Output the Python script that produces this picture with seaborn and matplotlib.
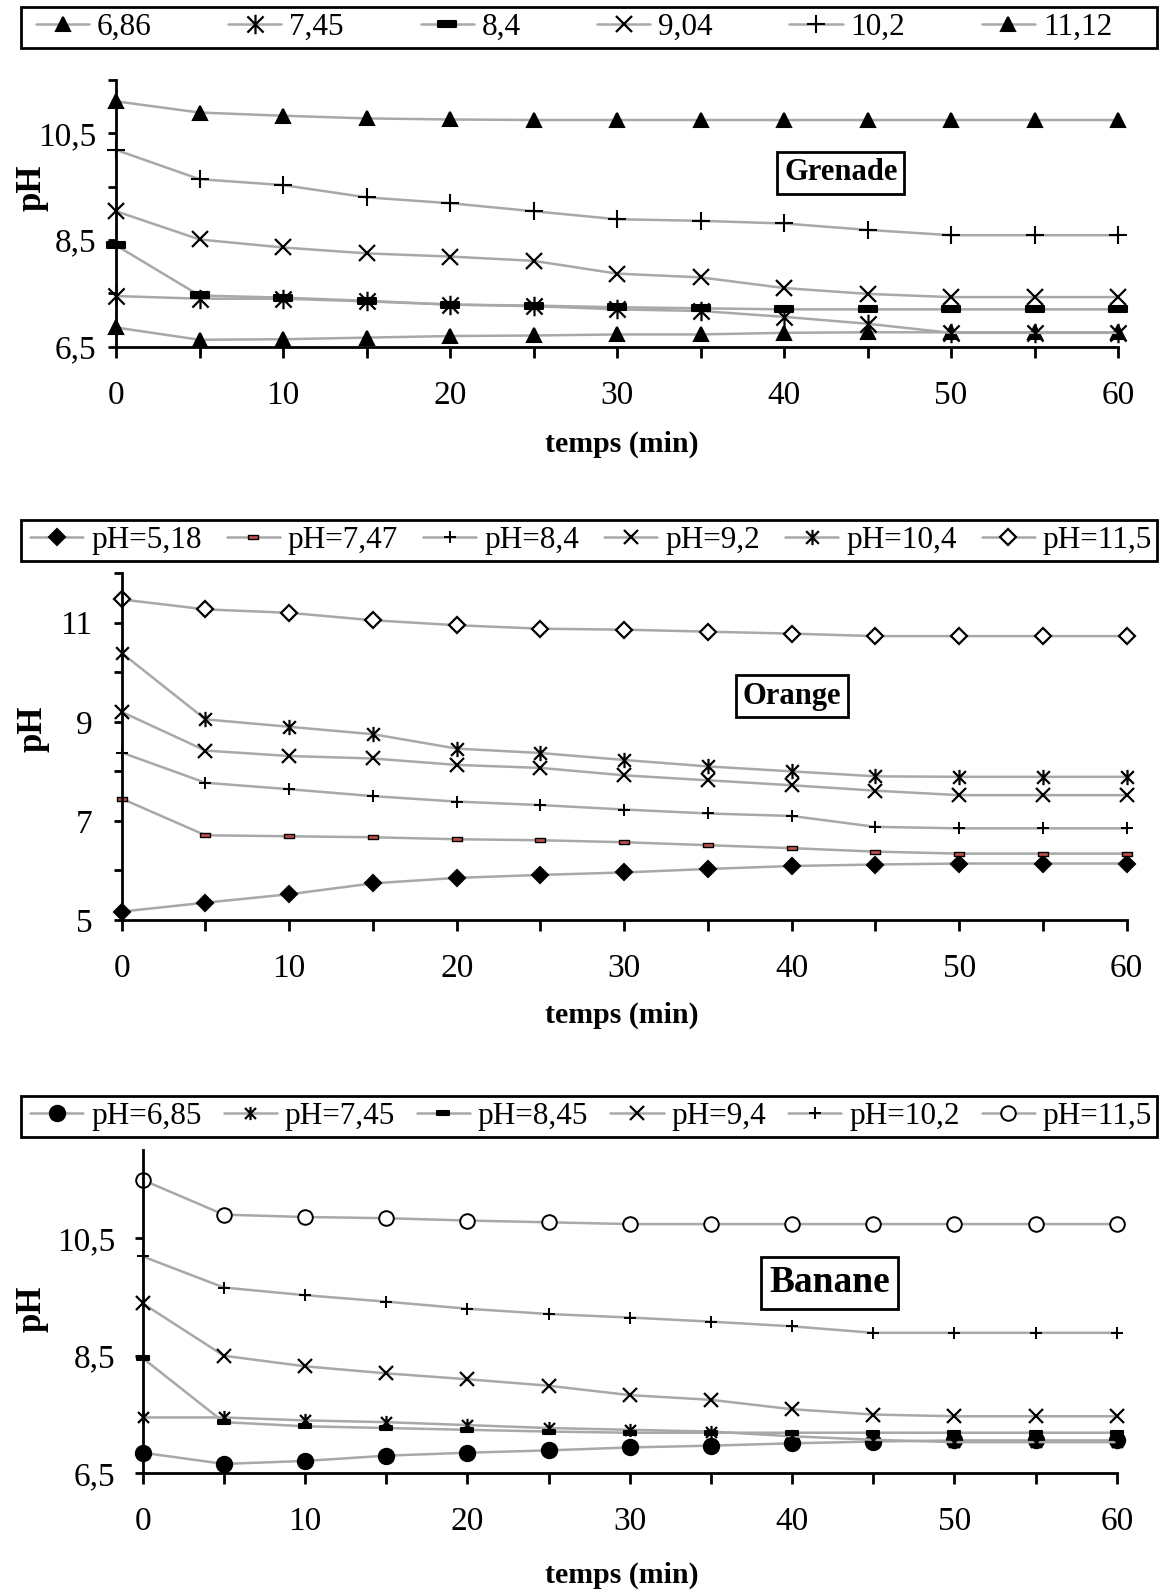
import matplotlib
matplotlib.use("Agg")
import matplotlib.pyplot as plt
import seaborn as sns
from matplotlib.lines import Line2D
from matplotlib.path import Path
from matplotlib.patches import Rectangle
from matplotlib.ticker import MultipleLocator, FixedLocator, FuncFormatter

sns.set_theme(style="white")
plt.rcParams['font.family'] = ['Liberation Serif', 'DejaVu Serif']

# ---------------- data ----------------
time_min = [0, 5, 10, 15, 20, 25, 30, 35, 40, 45, 50, 55, 60]

# Grenade
gren_labels = ["6,86", "7,45", "8,4", "9,04", "10,2", "11,12"]
gren_686 = [6.86, 6.63, 6.64, 6.67, 6.70, 6.71, 6.73, 6.73, 6.76, 6.77, 6.77, 6.77, 6.77]
gren_745 = [7.45, 7.40, 7.40, 7.35, 7.29, 7.26, 7.20, 7.17, 7.06, 6.93, 6.76, 6.76, 6.76]
gren_84 = [8.40, 7.46, 7.42, 7.36, 7.29, 7.27, 7.24, 7.22, 7.20, 7.20, 7.20, 7.20, 7.20]
gren_904 = [9.04, 8.51, 8.36, 8.25, 8.19, 8.11, 7.87, 7.80, 7.60, 7.49, 7.43, 7.43, 7.43]
gren_102 = [10.19, 9.64, 9.53, 9.30, 9.19, 9.04, 8.89, 8.86, 8.81, 8.69, 8.59, 8.59, 8.59]
gren_1112 = [11.10, 10.89, 10.83, 10.78, 10.76, 10.75, 10.75, 10.75, 10.75, 10.75, 10.75, 10.75, 10.75]

# Orange
orange_labels = ["pH=5,18", "pH=7,47", "pH=8,4", "pH=9,2", "pH=10,4", "pH=11,5"]
orange_518 = [5.17, 5.35, 5.52, 5.74, 5.85, 5.91, 5.96, 6.03, 6.09, 6.12, 6.14, 6.14, 6.14]
orange_747 = [7.45, 6.71, 6.69, 6.67, 6.63, 6.61, 6.57, 6.51, 6.45, 6.38, 6.34, 6.34, 6.34]
orange_84 = [8.38, 7.77, 7.64, 7.50, 7.39, 7.32, 7.23, 7.15, 7.10, 6.88, 6.85, 6.85, 6.85]
orange_92 = [9.20, 8.42, 8.31, 8.26, 8.13, 8.07, 7.92, 7.82, 7.72, 7.61, 7.52, 7.52, 7.52]
orange_104 = [10.39, 9.05, 8.90, 8.75, 8.46, 8.37, 8.23, 8.10, 8.00, 7.90, 7.89, 7.89, 7.89]
orange_115 = [11.47, 11.27, 11.20, 11.05, 10.95, 10.88, 10.86, 10.82, 10.78, 10.73, 10.73, 10.73, 10.73]

# Banane
banane_labels = ["pH=6,85", "pH=7,45", "pH=8,45", "pH=9,4", "pH=10,2", "pH=11,5"]
banane_685 = [6.85, 6.66, 6.71, 6.80, 6.85, 6.89, 6.94, 6.97, 7.01, 7.04, 7.06, 7.06, 7.06]
banane_745 = [7.45, 7.45, 7.40, 7.37, 7.32, 7.27, 7.24, 7.21, 7.13, 7.07, 7.03, 7.03, 7.03]
banane_845 = [8.46, 7.37, 7.30, 7.27, 7.24, 7.21, 7.19, 7.19, 7.19, 7.19, 7.19, 7.19, 7.19]
banane_94 = [9.39, 8.50, 8.32, 8.20, 8.10, 7.99, 7.83, 7.75, 7.59, 7.50, 7.47, 7.47, 7.47]
banane_102 = [10.19, 9.66, 9.53, 9.42, 9.30, 9.21, 9.15, 9.08, 9.00, 8.89, 8.89, 8.89, 8.89]
banane_115 = [11.49, 10.90, 10.86, 10.84, 10.80, 10.77, 10.74, 10.74, 10.74, 10.74, 10.74, 10.74, 10.74]

# ---------------- styles ----------------
LINE = '#a8a8a8'
FS = 24
XFS = 21.5
LFS = 22.5
W, H = 1168, 1591

star = Path([(-1, -1), (1, 1), (-1, 1), (1, -1), (0, -1.2), (0, 1.2)],
            [Path.MOVETO, Path.LINETO, Path.MOVETO, Path.LINETO, Path.MOVETO, Path.LINETO])
dash_thin = Path([(-1, -0.3), (1, -0.3), (1, 0.3), (-1, 0.3), (-1, -0.3)],
                 [Path.MOVETO, Path.LINETO, Path.LINETO, Path.LINETO, Path.CLOSEPOLY])
dash_red = Path([(-1, -0.45), (1, -0.45), (1, 0.45), (-1, 0.45), (-1, -0.45)],
                [Path.MOVETO, Path.LINETO, Path.LINETO, Path.LINETO, Path.CLOSEPOLY])

def st(marker, ms, fc='black', ec='black', mew=1.5):
    return dict(marker=marker, markersize=ms, markerfacecolor=fc,
                markeredgecolor=ec, markeredgewidth=mew)

gren_styles = [st('^', 10.5), st(star, 14, mew=1.6), st(dash_thin, 13.5),
               st('x', 12, mew=1.6), st('+', 13, mew=1.5), st('^', 10.5)]
orange_styles = [st('D', 8.5), st(dash_red, 7.5, fc='#c0504d', mew=1.0),
                 st('+', 9, mew=1.4), st('x', 10.5, mew=1.6),
                 st(star, 11, mew=1.6), st('D', 8.5, fc='white', mew=1.6)]
banane_styles = [st('o', 11), st(star, 9.5, mew=1.6), st(dash_thin, 9),
                 st('x', 10.5, mew=1.6), st('+', 9, mew=1.4),
                 st('o', 10.5, fc='white', mew=1.4)]

panels = [
    dict(series=[gren_686, gren_745, gren_84, gren_904, gren_102, gren_1112],
         labels=gren_labels, styles=gren_styles,
         rect=[116 / W, 1 - 346.7 / H, 1002 / W, 266.7 / H],
         ylim=(6.5, 11.5), major=[6.5, 8.5, 10.5], minor=[7.5, 9.5, 11.5],
         legend_y=(7, 48), legend_x=(36, 1112),
         title='Grenade', title_xy=(43.4, 9.76), title_fs=22,
         ylab=(-0.067, 0.595), xlab=(0.505, -0.315), ypad=8),
    dict(series=[orange_518, orange_747, orange_84, orange_92, orange_104, orange_115],
         labels=orange_labels, styles=orange_styles,
         rect=[121.7 / W, 1 - 920 / H, 1005 / W, 346.8 / H],
         ylim=(5, 12), major=[5, 7, 9, 11], minor=[6, 8, 10, 12],
         legend_y=(520, 561), legend_x=(30, 1152),
         title='Orange', title_xy=(40.0, 9.52), title_fs=22,
         ylab=(-0.072, 0.552), xlab=(0.498, -0.236), ypad=15),
    dict(series=[banane_685, banane_745, banane_845, banane_94, banane_102, banane_115],
         labels=banane_labels, styles=banane_styles,
         rect=[142.7 / W, 1 - 1473.3 / H, 974.1 / W, 323.3 / H],
         ylim=(6.5, 12), major=[6.5, 8.5, 10.5], minor=[],
         legend_y=(1096, 1137), legend_x=(30, 1152),
         title='Banane', title_xy=(42.3, 9.74), title_fs=27,
         ylab=(-0.097, 0.508), xlab=(0.492, -0.272), ypad=14),
]

fig = plt.figure(figsize=(W / 100, H / 100), dpi=100)
fig.patch.set_facecolor('white')

comma = FuncFormatter(lambda v, p: ('%g' % v).replace('.', ','))

for P in panels:
    ax = fig.add_axes(P['rect'])
    ax.set_facecolor('white')
    handles = []
    for vals, lab, sty in zip(P['series'], P['labels'], P['styles']):
        sns.lineplot(x=time_min, y=vals, ax=ax, color=LINE, linewidth=1.8,
                     legend=False, zorder=3, clip_on=False, **sty)
        handles.append(Line2D([], [], color=LINE, linewidth=1.8, label=lab, **sty))
    ax.set_xlim(0, 60)
    ax.set_ylim(*P['ylim'])
    ax.xaxis.set_major_locator(MultipleLocator(10))
    ax.xaxis.set_minor_locator(MultipleLocator(5))
    ax.yaxis.set_major_locator(FixedLocator(P['major']))
    ax.yaxis.set_minor_locator(FixedLocator(P['minor']))
    ax.yaxis.set_major_formatter(comma)
    for s in ['top', 'right']:
        ax.spines[s].set_visible(False)
    for s in ['left', 'bottom']:
        ax.spines[s].set_color('black')
        ax.spines[s].set_linewidth(2)
        ax.spines[s].set_zorder(4)
    ax.tick_params(axis='x', which='both', direction='out', length=8, width=2,
                   color='black', bottom=True, labelsize=FS, pad=16, labelcolor='black')
    ax.tick_params(axis='y', which='both', direction='out', length=6, width=2,
                   color='black', left=True, labelsize=FS, pad=P['ypad'], labelcolor='black')
    ax.grid(False)
    ax.set_xlabel('temps (min)', fontsize=XFS, fontweight='bold', color='black')
    ax.set_ylabel('pH', fontsize=FS + 1, fontweight='bold', color='black')
    ax.xaxis.set_label_coords(*P['xlab'])
    ax.yaxis.set_label_coords(*P['ylab'])
    ax.text(P['title_xy'][0], P['title_xy'][1], P['title'], fontsize=P['title_fs'],
            fontweight='bold', ha='center', va='center', color='black', zorder=6,
            bbox=dict(boxstyle='square,pad=0.22', fc='white', ec='black', lw=2))
    y0, y1 = P['legend_y']
    x0, x1 = P['legend_x']
    # legend frame
    fig.patches.append(Rectangle((20.5 / W, 1 - y1 / H), (1157 - 20.5) / W, (y1 - y0) / H,
                                 transform=fig.transFigure, fill=False,
                                 edgecolor='black', linewidth=2, zorder=5))
    leg = fig.legend(handles=handles, loc='center', ncol=6, mode='expand',
                     bbox_to_anchor=(x0 / W, 1 - y1 / H, (x1 - x0) / W, (y1 - y0) / H),
                     frameon=False, fontsize=LFS,
                     handlelength=1.7, handletextpad=0.25, borderaxespad=0,
                     borderpad=0.0, columnspacing=0.5)
    for t in leg.get_texts():
        t.set_color('black')

fig.savefig('out.png', dpi=100, facecolor='white')
